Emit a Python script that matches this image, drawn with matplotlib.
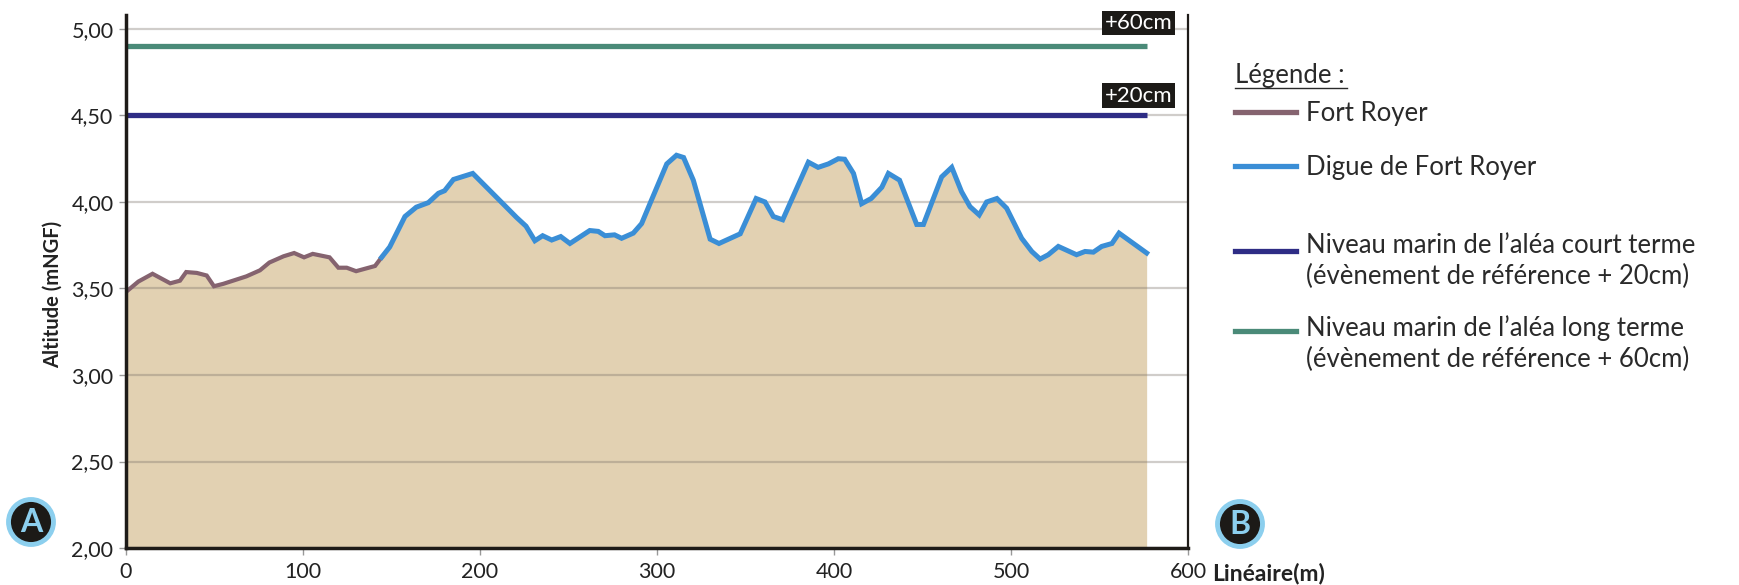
import matplotlib
matplotlib.use("Agg")
import matplotlib.pyplot as plt
from matplotlib.lines import Line2D
import numpy as np

plt.rcParams['font.family'] = ['Lato', 'DejaVu Sans']

# profil Fort Royer (m, mNGF)
fort_x = [0, 7, 15, 25, 30.5, 34, 40, 45.6, 49.7, 55, 68, 75.7, 81, 89, 95,
          100.6, 105.5, 115, 120, 124.7, 130, 140.7, 144.4]
fort_y = [3.48, 3.54, 3.585, 3.53, 3.545, 3.595, 3.59, 3.575, 3.513, 3.527, 3.57,
          3.605, 3.65, 3.686, 3.705, 3.68, 3.70, 3.68, 3.62, 3.62, 3.60, 3.63, 3.68]

# profil digue de Fort Royer
digue_x = [144.4, 149, 157.6, 164, 170.8, 176.5, 180, 185, 195.9, 211, 220.7, 226,
           231, 235.4, 240.5, 245.6, 250.8, 262, 266.8, 270.6, 276, 280, 286.6,
           291.3, 296, 305.5, 311, 315, 320.5, 330, 335, 347, 356, 361, 365.7, 371,
           385.5, 391, 396.8, 402.4, 406, 411, 415.6, 421, 427, 430.7, 437, 446.7,
           450.5, 460.8, 466.5, 472, 476.8, 482, 486.2, 492, 497.5, 506, 511.7,
           516.4, 521, 526.7, 537, 541.8, 546.5, 551.2, 557, 561, 576.6]
digue_y = [3.68, 3.74, 3.916, 3.97, 3.996, 4.05, 4.065, 4.13, 4.165, 4.01, 3.91, 3.86,
           3.776, 3.805, 3.78, 3.80, 3.76, 3.835, 3.83, 3.805, 3.81, 3.79, 3.82,
           3.875, 3.99, 4.22, 4.27, 4.257, 4.126, 3.785, 3.76, 3.816, 4.02, 4.00,
           3.916, 3.897, 4.23, 4.20, 4.22, 4.25, 4.247, 4.165, 3.99, 4.02, 4.085,
           4.165, 4.126, 3.87, 3.87, 4.145, 4.20, 4.06, 3.973, 3.925, 4.0, 4.02,
           3.964, 3.79, 3.714, 3.67, 3.695, 3.743, 3.695, 3.714, 3.71, 3.743, 3.76,
           3.82, 3.705]

niveau_court = 4.50
niveau_long = 4.90
x_fin = 576.6

c_fill = '#e2d1b2'
c_fort = '#85636f'
c_digue = '#3a8ed6'
c_court = '#2e2c85'
c_long = '#4a8a78'

fig = plt.figure(figsize=(17.4, 5.85), dpi=100)
ax = fig.add_axes([0.0724, 0.0632, 0.6104, 0.911])

prof_x = np.array(fort_x + digue_x[1:])
prof_y = np.array(fort_y + digue_y[1:])
ax.fill_between(prof_x, 2, prof_y, color=c_fill, lw=0, zorder=1)
ax.plot(fort_x, fort_y, color=c_fort, lw=3, zorder=4, solid_joinstyle='miter')
ax.plot(digue_x, digue_y, color=c_digue, lw=3.6, zorder=4, solid_joinstyle='miter')
ax.hlines(niveau_long, 0, x_fin, color=c_long, lw=3.8, zorder=3)
ax.hlines(niveau_court, 0, x_fin, color=c_court, lw=3.8, zorder=3)

box = dict(boxstyle='square,pad=0.1', fc='#1c1a17', ec='none')
ax.text(572, 5.035, '+60cm', color='white', fontsize=16, ha='center', va='center', bbox=box, zorder=5, clip_on=False)
ax.text(572, 4.615, '+20cm', color='white', fontsize=16, ha='center', va='center', bbox=box, zorder=5)

ax.set_xlim(0, 600)
ax.set_ylim(2, 5.08)
ax.set_xticks(np.arange(0, 601, 100))
ax.set_yticks(np.arange(2, 5.01, 0.5))
ax.set_yticklabels([f"{v:.2f}".replace('.', ',') for v in np.arange(2, 5.01, 0.5)])
ax.yaxis.grid(True, color='#7a7068', alpha=0.35, lw=1.6, zorder=2)
ax.set_axisbelow(False)
ax.tick_params(axis='both', labelsize=15.5, color='#999999', length=5, width=1, labelcolor='#222222')
ax.tick_params(axis='x', pad=5)
ax.tick_params(axis='y', pad=4)

ax.spines['top'].set_visible(False)
ax.spines['left'].set_linewidth(2.5)
ax.spines['bottom'].set_linewidth(2.5)
ax.spines['right'].set_linewidth(1.6)
for s in ['left', 'bottom', 'right']:
    ax.spines[s].set_color('#1e1b18')
    ax.spines[s].set_zorder(6)

fig.text(53 / 1740, 0.497, 'Altitude (mNGF)', rotation=90, ha='center', va='center',
         fontsize=14.5, fontweight='bold', color='#222222')
fig.text(1212 / 1740, 1 - 574 / 585, 'Linéaire(m)', ha='left', va='center',
         fontsize=16.5, fontweight='bold', color='#222222')

# pastilles A / B
pastille = dict(boxstyle='circle,pad=0.25', fc='#1c1a17', ec='#8ccfee', lw=3.5)
fig.text(31 / 1740, 1 - 522 / 585, 'A', ha='center', va='center', fontsize=23,
         fontweight='bold', color='#8ccfee', bbox=pastille)
fig.text(1240 / 1740, 1 - 524 / 585, 'B', ha='center', va='center', fontsize=23,
         fontweight='bold', color='#8ccfee', bbox=pastille)

# légende
lx0, lx1, tx = 1235 / 1740, 1296 / 1740, 1306 / 1740
fig.text(lx0, 1 - 75 / 585, 'Légende :', ha='left', va='center', fontsize=18.5, color='#2a2a2a')
fig.add_artist(Line2D([lx0, 1347 / 1740], [1 - 88 / 585] * 2, color='#2a2a2a', lw=1))

items = [(c_fort, 112, 113, 'Fort Royer'),
         (c_digue, 166, 167, 'Digue de Fort Royer'),
         (c_court, 251, 261, 'Niveau marin de l\u2019aléa court terme\n(évènement de référence + 20cm)'),
         (c_long, 331, 344, 'Niveau marin de l\u2019aléa long terme\n(évènement de référence + 60cm)')]
for col, yl, yt, lab in items:
    fig.add_artist(Line2D([lx0, lx1], [1 - yl / 585] * 2, color=col, lw=3.8))
    fig.text(tx, 1 - yt / 585, lab, ha='left', va='center', fontsize=18.5,
             color='#2a2a2a', linespacing=1.3)

fig.savefig('out.png', dpi=100)
